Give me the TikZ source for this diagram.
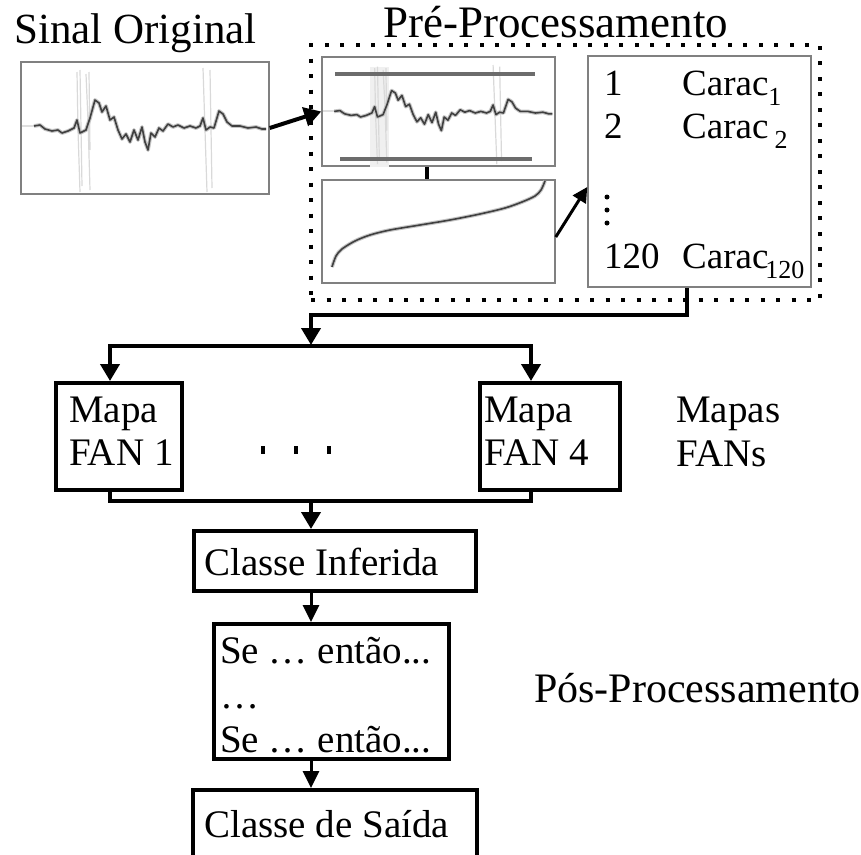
\documentclass[tikz,border=0pt]{standalone}
\usepackage{fontspec}
\setmainfont{Liberation Serif}
\usetikzlibrary{arrows.meta,positioning}
\tikzstyle{arrow} = [line width=4pt,-{Triangle[length=17pt,width=19pt]}]
\tikzstyle{thinarrow} = [line width=3pt,-{Triangle[length=17pt,width=16pt]}]
\tikzstyle{flowbox} = [draw, line width=4pt, inner sep=0pt]
\tikzstyle{imgbox} = [draw=gray, line width=1.5pt, inner sep=0pt]
\tikzstyle{trace} = [draw=gray!45, line width=1.1pt, double=black!75, double distance=1.6pt, line join=round]
\tikzstyle{txt} = [anchor=base west, inner sep=0pt, font=\fontsize{39}{44}\selectfont]
\tikzstyle{feattxt} = [anchor=base west, inner sep=0pt, font=\fontsize{37}{40}\selectfont]
\newcommand{\sub}[1]{\raisebox{-10pt}{\fontsize{26}{26}\selectfont #1}}

% ecg trace, drawn in the box of the original signal
\newcommand{\ecgtrace}{%
\draw[gray!30, line width=1.2pt] (77,72) -- (78,130) -- (80,192) (80,70) -- (82,186)
  (86,74) -- (88,120) -- (90,190) (89,72) -- (90,150);
\draw[gray!30, line width=1.2pt] (203,68) -- (205,130) -- (207,192) (210,70) -- (212,188);
\draw[gray!25, line width=2pt] (22,126) -- (34,126);
\draw[trace] (34,126) -- (40,125) -- (45,129) -- (52,131)
  -- (58,130) -- (62,133) -- (68,131) -- (74,128) -- (77,120) -- (80,133) -- (86,130)
  -- (90,118) -- (95,100) -- (99,103) -- (102,112) -- (106,106) -- (110,120) -- (114,117)
  -- (118,130) -- (122,139) -- (126,134) -- (130,142) -- (134,130) -- (138,140) -- (142,127)
  -- (145,142) -- (148,150) -- (151,133) -- (155,137) -- (159,128) -- (163,131) -- (168,124)
  -- (173,127) -- (178,125) -- (184,128) -- (190,126) -- (196,128) -- (200,126) -- (203,118)
  -- (206,130) -- (210,127) -- (214,128) -- (219,111) -- (223,114) -- (227,122) -- (232,126)
  -- (240,126) -- (248,128) -- (256,127) -- (262,129) -- (266,129);
}

\begin{document}
\begin{tikzpicture}[x=1pt,y=-1pt]
\clip (0,0) rectangle (861,854);

% titles
\node[txt, font=\fontsize{43}{46}\selectfont] (sinal) at (14,43) {Sinal Original};
\node[txt, font=\fontsize{45}{48}\selectfont] (pre) at (383,37) {Pré-Processamento};
\node[txt, font=\fontsize{42}{46}\selectfont] (pos) at (534,702) {Pós-Processamento};
\node[txt] (mapas) at (676,422) {Mapas};
\node[txt] (fans) at (676,466) {FANs};

% pre-processing block
\node[draw, line width=4pt, dash pattern=on 4pt off 11.5pt, minimum width=509pt, minimum height=255pt] (prep) at (565.5,172.5) {};
\node[imgbox, minimum width=248pt, minimum height=132pt] (sig) at (145,128) {};
\node[imgbox, minimum width=233pt, minimum height=109pt] (filt) at (438.5,111.5) {};
\node[imgbox, minimum width=233pt, minimum height=103pt] (curve) at (438.5,231.5) {};
\node[imgbox, minimum width=223pt, minimum height=231pt] (feat) at (699.5,171.5) {};

\ecgtrace
\begin{scope}[shift={(302.26,10.6)}, xscale=0.94, yscale=0.8]
\fill[gray!12] (72,70) rectangle (92,195);
\ecgtrace
\end{scope}
\draw[gray!85!black, line width=4pt] (335,74) -- (535,74);
\draw[gray!85!black, line width=4pt] (340,159) -- (532,159);
\draw[trace] plot[smooth] coordinates {(332,267) (336,256) (342,249) (355,241)
  (370,235) (390,230) (420,225) (450,220) (480,214) (505,208) (522,202) (535,196) (541,190) (545,181)};

% features
\node[feattxt] (n1) at (604,95) {1};
\node[feattxt] (c1) at (682,95) {Carac\sub{1}};
\node[feattxt] (n2) at (604,138) {2};
\node[feattxt] (c2) at (682,138) {Carac\,\sub{2}};
\node[feattxt] (n120) at (604,268) {120};
\node[feattxt] (c120) at (682,268) {Carac\kern-3pt\sub{120}};
\foreach \y in {197,210,223}
  \fill (607,\y) circle (2.5pt);

\draw[arrow] (sig.east) -- (filt.west);
\draw[line width=4pt] ([xshift=-11.5pt]filt.south) -- ([xshift=-11.5pt]curve.north);
\draw[line width=3pt,-{Triangle[length=15pt,width=15pt]}] ([yshift=-5.5pt]curve.east) -- ([yshift=-15.5pt]feat.west);

% FAN maps
\node[flowbox, minimum width=126pt, minimum height=107pt] (fan1) at (119,436.5) {};
\node[flowbox, minimum width=140pt, minimum height=107pt] (fan4) at (550,436.5) {};
\node[txt] (fan1a) at (69,422) {Mapa};
\node[txt] (fan1b) at (69,465) {FAN 1};
\node[txt] (fan4a) at (484,422) {Mapa};
\node[txt] (fan4b) at (484,465) {FAN 4};
\foreach \x in {263,296,329}
  \fill (\x-2,446) rectangle (\x+2,454);

\coordinate (split) at (311,315);
\coordinate (fork) at (311,346);
\coordinate (join) at (311,501);
\draw[arrow] ([xshift=-12.5pt]feat.south) |- (split) -- ([yshift=1pt]fork);
\draw[arrow] (fork) -| ([xshift=-9pt]fan1.north);
\draw[arrow] (fork) -| ([xshift=-19pt]fan4.north);
\draw[line width=4pt] ([xshift=-9pt]fan1.south) |- (join);
\draw[line width=4pt] ([xshift=-19pt]fan4.south) |- (join);

% post-processing
\node[flowbox, minimum width=282pt, minimum height=60pt] (ci) at (335,561) {};
\node[flowbox, minimum width=235pt, minimum height=135pt] (rules) at (331.5,691.5) {};
\node[flowbox, minimum width=284pt, minimum height=100pt] (out) at (335,840) {};
\node[txt] (cit) at (204,575) {Classe Inferida};
\node[txt] (r1) at (220,663) {Se … então...};
\node[txt] (r2) at (220,708) {…};
\node[txt] (r3) at (220,752) {Se … então...};
\node[txt] (outt) at (204,837) {Classe de Saída};

\draw[arrow] (join) -- (join |- ci.north);
\draw[thinarrow] (ci.south -| join) -- (rules.north -| join);
\draw[thinarrow] (rules.south -| join) -- (out.north -| join);
\end{tikzpicture}
\end{document}
